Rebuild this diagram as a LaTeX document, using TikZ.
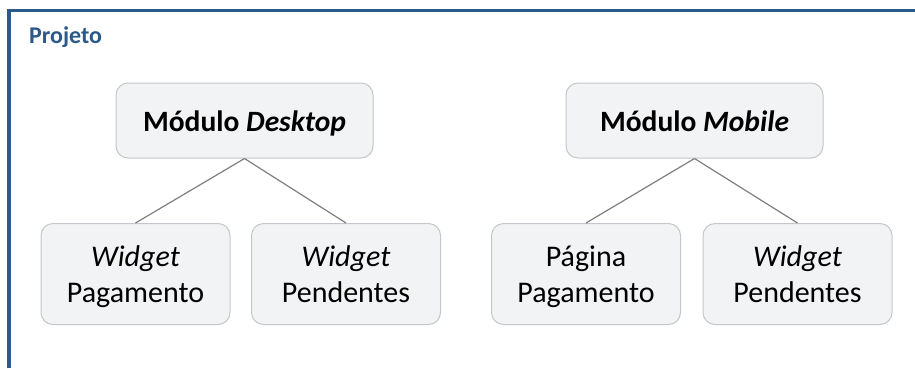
\documentclass[tikz,border=0pt]{standalone}
\usepackage{fontspec}
\setmainfont{Carlito}
\definecolor{frameblue}{HTML}{2B5A8A}
\definecolor{boxfill}{HTML}{F2F3F5}
\definecolor{boxline}{HTML}{C3C6CA}
\definecolor{linkgray}{HTML}{7F7F7F}
\tikzset{
  modbox/.style={draw=boxline, line width=1pt, fill=boxfill, rounded corners=12pt,
    minimum width=257pt, minimum height=75pt, inner sep=0pt,
    font=\fontsize{29.5}{36.6}\selectfont\bfseries, text height=26pt, text depth=4pt},
  itembox/.style={draw=boxline, line width=1pt, fill=boxfill, rounded corners=12pt,
    minimum width=189pt, minimum height=101pt, inner sep=0pt, align=center,
    font=\fontsize{30}{36.6}\selectfont, text height=63.6pt, text depth=6pt},
  link/.style={draw=linkgray, line width=1.2pt},
  frameline/.style={draw=frameblue, line width=3.2pt}
}
\begin{document}
\begin{tikzpicture}[x=1pt,y=-1pt]
  \useasboundingbox (0,0) rectangle (915,368);
  % outer frame (open towards the right and bottom edges)
  \draw[frameline] (9,368) -- (9,10.5) -- (915,10.5);
  \node[anchor=west, text=frameblue, font=\fontsize{24}{28}\selectfont\bfseries, inner sep=0pt]
    (title) at (29,37.5) {Projeto};

  % desktop module
  \node[modbox] (desk) at (244.5,120.5) {Módulo \textit{Desktop}};
  \node[itembox] (dpay) at (135.5,274) {\textit{Widget}\\Pagamento};
  \node[itembox] (dpend) at (346,274) {\textit{Widget}\\Pendentes};

  % mobile module
  \node[modbox] (mob) at (694.5,120.5) {Módulo \textit{Mobile}};
  \node[itembox] (mpay) at (586,274) {Página\\Pagamento};
  \node[itembox] (mpend) at (797.5,274) {\textit{Widget}\\Pendentes};

  \draw[link] (desk.south) -- (dpay.north);
  \draw[link] (desk.south) -- (dpend.north);
  \draw[link] (mob.south) -- (mpay.north);
  \draw[link] (mob.south) -- (mpend.north);
\end{tikzpicture}
\end{document}
